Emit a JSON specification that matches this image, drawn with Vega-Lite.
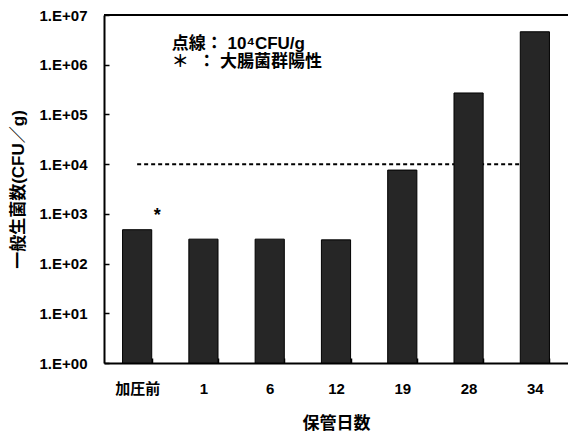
{
  "$schema": "https://vega.github.io/schema/vega-lite/v6.json",
  "width": 464,
  "height": 348,
  "autosize": {"type": "none"},
  "padding": {"left": 104, "top": 15, "right": 0, "bottom": 75},
  "background": "white",
  "config": {
    "view": {"stroke": null},
    "font": "Liberation Sans, Noto Sans CJK JP",
    "axis": {"domainColor": "black", "tickColor": "black", "labelColor": "black", "titleColor": "black", "domainWidth": 2, "tickWidth": 1.5}
  },
  "datasets": {
    "bars": [
      {"day": "加圧前", "count": 480, "mark": "*"},
      {"day": "1", "count": 310, "mark": ""},
      {"day": "6", "count": 310, "mark": ""},
      {"day": "12", "count": 300, "mark": ""},
      {"day": "19", "count": 7600, "mark": ""},
      {"day": "28", "count": 270000, "mark": ""},
      {"day": "34", "count": 4600000, "mark": ""}
    ],
    "limit": [
      {"day": "加圧前", "count": 10000},
      {"day": "34", "count": 10000}
    ],
    "top": [{"count": 10000000}],
    "notes": [
      {"day": "1", "count": 2600000, "text": "点線： 10⁴CFU/g"},
      {"day": "1", "count": 1140000, "text": "＊\u00a0\u00a0：\u00a0大腸菌群陽性"}
    ]
  },
  "layer": [
    {
      "data": {"name": "limit"},
      "mark": {"type": "line", "color": "black", "strokeWidth": 2, "strokeDash": [4, 3]},
      "encoding": {
        "x": {"field": "day", "type": "nominal", "sort": ["加圧前", "1", "6", "12", "19", "28", "34"]},
        "y": {"field": "count", "type": "quantitative"}
      }
    },
    {
      "data": {"name": "bars"},
      "mark": {"type": "bar", "fill": "#262626", "stroke": "black", "strokeWidth": 1},
      "encoding": {
        "x": {
          "field": "day", "type": "nominal",
          "sort": ["加圧前", "1", "6", "12", "19", "28", "34"],
          "scale": {"paddingInner": 0.56, "paddingOuter": 0.28},
          "axis": {
            "title": "保管日数", "labelAngle": 0, "labelAlign": "center", "labelBaseline": "top",
            "tickBand": "extent",
            "tickSize": -5, "labelPadding": 23,
            "labelFontSize": 15, "labelFontWeight": "bold",
            "titleFontSize": 17, "titleFontWeight": "bold", "titlePadding": 19
          }
        },
        "y": {
          "field": "count", "type": "quantitative",
          "scale": {"type": "log", "domain": [1, 10000000], "nice": false},
          "axis": {
            "title": "一般生菌数(CFU／g)",
            "values": [1, 10, 100, 1000, 10000, 100000, 1000000, 10000000],
            "labelExpr": "'1.E+0' + round(log(datum.value)/LN10)",
            "grid": false, "tickSize": -5, "labelPadding": 22,
            "labelFontSize": 15, "labelFontWeight": "bold",
            "titleFontSize": 17, "titleFontWeight": "bold", "titlePadding": 12
          }
        },
        "y2": {"datum": 1}
      }
    },
    {
      "data": {"name": "bars"},
      "mark": {"type": "text", "dx": 20, "dy": -14, "fontSize": 18, "fontWeight": "bold", "color": "black"},
      "encoding": {
        "x": {"field": "day", "type": "nominal", "sort": ["加圧前", "1", "6", "12", "19", "28", "34"]},
        "y": {"field": "count", "type": "quantitative"},
        "text": {"field": "mark"}
      }
    },
    {
      "data": {"name": "top"},
      "mark": {"type": "rule", "color": "black", "strokeWidth": 2},
      "encoding": {"y": {"field": "count", "type": "quantitative"}}
    },
    {
      "data": {"name": "notes"},
      "mark": {"type": "text", "align": "left", "dx": -17, "fontSize": 17, "letterSpacing": 1, "fontWeight": "bold", "color": "black"},
      "encoding": {
        "x": {"field": "day", "type": "nominal", "bandPosition": 0, "sort": ["加圧前", "1", "6", "12", "19", "28", "34"]},
        "y": {"field": "count", "type": "quantitative"},
        "text": {"field": "text"}
      }
    }
  ]
}
